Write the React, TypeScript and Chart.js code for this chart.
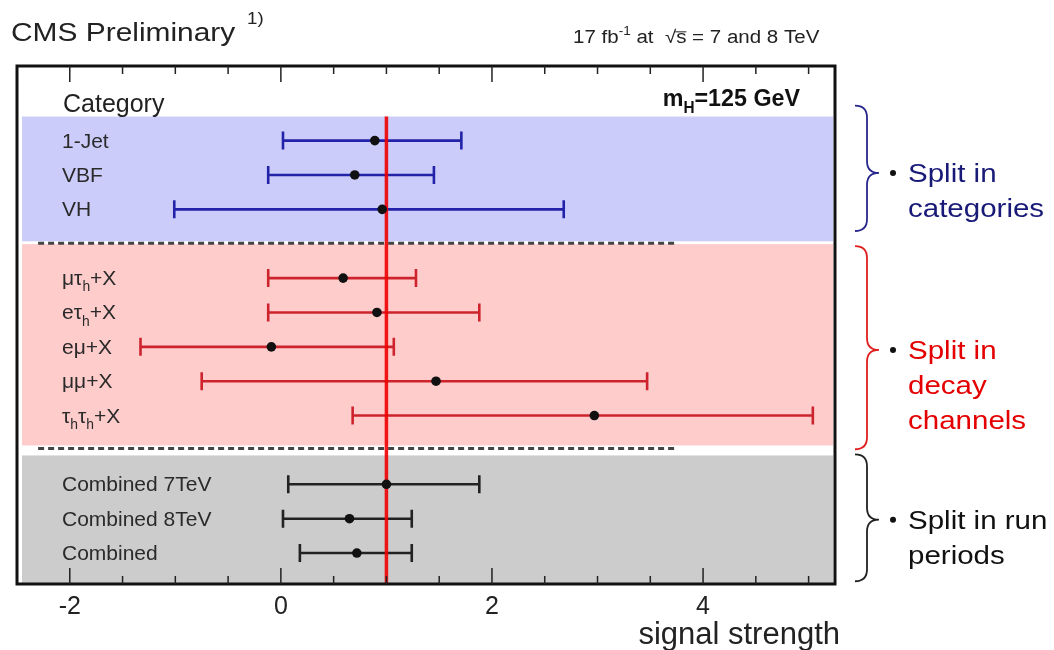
import React, { useEffect, useRef } from "react";
import { Chart, registerables } from "chart.js";
Chart.register(...registerables);

// ---------- data ----------
const categories = [
  "1-Jet",
  "VBF",
  "VH",
  "μτ_{h}+X",
  "eτ_{h}+X",
  "eμ+X",
  "μμ+X",
  "τ_{h}τ_{h}+X",
  "Combined 7TeV",
  "Combined 8TeV",
  "Combined",
];
const rowIndex = [0, 1, 2, 4, 5, 6, 7, 8, 10, 11, 12];
const bestFit = [0.89, 0.7, 0.96, 0.59, 0.91, -0.09, 1.47, 2.97, 1.0, 0.65, 0.72];
const lowEdge = [0.02, -0.12, -1.01, -0.12, -0.12, -1.33, -0.75, 0.68, 0.07, 0.02, 0.18];
const highEdge = [1.71, 1.45, 2.68, 1.28, 1.88, 1.07, 3.47, 5.04, 1.88, 1.24, 1.24];
const groupOf = ["cat", "cat", "cat", "dec", "dec", "dec", "dec", "dec", "run", "run", "run"];
const xTickValues = [-2, 0, 2, 4];
const smValue = 1;

// ---------- styling / layout ----------
const FONT = '"Liberation Sans", Arial, Helvetica, sans-serif';
const X_MIN = -2.5;
const X_MAX = 5.25;
const Y_MIN = -2.17;
const Y_MAX = 12.9;
const barColor: Record<string, string> = {
  cat: "rgb(35,35,170)",
  dec: "rgb(205,35,45)",
  run: "#222222",
};
const bands = [
  { from: -0.7, to: 2.93, color: "rgb(204,204,250)" },
  { from: 3.01, to: 8.87, color: "rgb(255,204,204)" },
  { from: 9.16, to: Y_MAX, color: "rgb(204,204,204)" },
];
const dashedRows = [2.985, 8.96];
const dashFrom = -2.3;
const dashTo = 3.75;
const annotations = [
  { top: -1.02, bottom: 2.63, tip: 0.94, brace: "rgb(40,40,140)", text: "rgb(25,25,120)", lines: ["Split in", "categories"] },
  { top: 3.07, bottom: 8.98, tip: 6.09, brace: "rgb(225,30,30)", text: "rgb(228,0,0)", lines: ["Split in", "decay", "channels"] },
  { top: 9.13, bottom: 12.82, tip: 11.03, brace: "#222222", text: "#111111", lines: ["Split in run", "periods"] },
];

type Seg = { t: string; mode?: "n" | "sub" | "sup"; over?: boolean };

function parseLabel(s: string): Seg[] {
  const segs: Seg[] = [];
  const re = /_\{([^}]*)\}/g;
  let last = 0;
  let m: RegExpExecArray | null;
  while ((m = re.exec(s))) {
    if (m.index > last) segs.push({ t: s.slice(last, m.index) });
    segs.push({ t: m[1], mode: "sub" });
    last = m.index + m[0].length;
  }
  if (last < s.length) segs.push({ t: s.slice(last) });
  return segs;
}

function drawRich(
  ctx: CanvasRenderingContext2D,
  segs: Seg[],
  x: number,
  y: number,
  size: number,
  o: { sx?: number; bold?: boolean; color?: string; align?: "left" | "right" | "center" } = {}
) {
  const sx = o.sx ?? 1;
  const weight = o.bold ? "bold " : "";
  const sizes = segs.map((s) => (s.mode === "sub" || s.mode === "sup" ? size * 0.66 : size));
  const widths = segs.map((s, i) => {
    ctx.font = `${weight}${sizes[i]}px ${FONT}`;
    return ctx.measureText(s.t).width * sx;
  });
  const total = widths.reduce((a, b) => a + b, 0);
  let cx = o.align === "right" ? x - total : o.align === "center" ? x - total / 2 : x;
  ctx.save();
  ctx.fillStyle = o.color ?? "#222";
  ctx.strokeStyle = o.color ?? "#222";
  ctx.textBaseline = "alphabetic";
  segs.forEach((s, i) => {
    ctx.font = `${weight}${sizes[i]}px ${FONT}`;
    const dy = s.mode === "sub" ? size * 0.3 : s.mode === "sup" ? -size * 0.42 : 0;
    ctx.save();
    ctx.translate(cx, y + dy);
    ctx.scale(sx, 1);
    ctx.fillText(s.t, 0, 0);
    ctx.restore();
    if (s.over) {
      ctx.lineWidth = 1;
      ctx.beginPath();
      ctx.moveTo(cx - 1, y - size * 0.62);
      ctx.lineTo(cx + widths[i], y - size * 0.62);
      ctx.stroke();
    }
    cx += widths[i];
  });
  ctx.restore();
  return total;
}

function drawBrace(ctx: CanvasRenderingContext2D, x: number, top: number, bottom: number, tip: number, color: string) {
  const r = 12;
  ctx.save();
  ctx.strokeStyle = color;
  ctx.lineWidth = 1.8;
  ctx.beginPath();
  ctx.moveTo(x - r, top);
  ctx.quadraticCurveTo(x, top, x, top + r);
  ctx.lineTo(x, tip - r);
  ctx.quadraticCurveTo(x, tip, x + r, tip);
  ctx.quadraticCurveTo(x, tip, x, tip + r);
  ctx.lineTo(x, bottom - r);
  ctx.quadraticCurveTo(x, bottom, x - r, bottom);
  ctx.stroke();
  ctx.restore();
}

const decorPlugin = {
  id: "decor",
  beforeDatasetsDraw(chart: any) {
    const { ctx, chartArea: a, scales } = chart;
    const xs = scales.x;
    const ys = scales.y;
    ctx.save();
    // bands
    bands.forEach((b) => {
      const y0 = ys.getPixelForValue(b.from);
      const y1 = ys.getPixelForValue(b.to);
      ctx.fillStyle = b.color;
      ctx.fillRect(a.left + 5, y0, a.right - 2 - (a.left + 5), y1 - y0);
    });
    // dashed separators
    ctx.strokeStyle = "#444";
    ctx.lineWidth = 3;
    ctx.setLineDash([6, 4]);
    dashedRows.forEach((v) => {
      const y = ys.getPixelForValue(v);
      ctx.beginPath();
      ctx.moveTo(xs.getPixelForValue(dashFrom), y);
      ctx.lineTo(xs.getPixelForValue(dashTo), y);
      ctx.stroke();
    });
    ctx.setLineDash([]);
    // error bars
    categories.forEach((_, i) => {
      const y = ys.getPixelForValue(rowIndex[i]);
      const xl = xs.getPixelForValue(lowEdge[i]);
      const xh = xs.getPixelForValue(highEdge[i]);
      ctx.strokeStyle = barColor[groupOf[i]];
      ctx.lineWidth = 2.6;
      ctx.beginPath();
      ctx.moveTo(xl, y);
      ctx.lineTo(xh, y);
      ctx.moveTo(xl, y - 9);
      ctx.lineTo(xl, y + 9);
      ctx.moveTo(xh, y - 9);
      ctx.lineTo(xh, y + 9);
      ctx.stroke();
    });
    // SM line
    const xr = xs.getPixelForValue(smValue);
    ctx.strokeStyle = "rgba(240,0,0,0.9)";
    ctx.lineWidth = 3.5;
    ctx.beginPath();
    ctx.moveTo(xr, ys.getPixelForValue(bands[0].from));
    ctx.lineTo(xr, a.bottom);
    ctx.stroke();
    ctx.restore();
  },
  afterDatasetsDraw(chart: any) {
    const { ctx, chartArea: a, scales } = chart;
    const xs = scales.x;
    const ys = scales.y;
    ctx.save();
    // frame
    ctx.strokeStyle = "#111";
    ctx.lineWidth = 3;
    ctx.strokeRect(a.left, a.top, a.right - a.left, a.bottom - a.top);
    // ticks
    ctx.lineWidth = 1.5;
    ctx.strokeStyle = "#222";
    for (let v = X_MIN; v <= X_MAX + 1e-9; v += 0.5) {
      const major = xTickValues.includes(v);
      const len = major ? 16 : 8;
      const x = xs.getPixelForValue(v);
      if (x <= a.left + 2 || x >= a.right - 2) continue;
      ctx.beginPath();
      ctx.moveTo(x, a.bottom);
      ctx.lineTo(x, a.bottom - len);
      ctx.moveTo(x, a.top);
      ctx.lineTo(x, a.top + len);
      ctx.stroke();
    }
    ctx.restore();
    // labels
    categories.forEach((c, i) => {
      const y = ys.getPixelForValue(rowIndex[i]) + 7;
      drawRich(ctx, parseLabel(c), a.left + 45, y, 21, { color: "#2a2a2a" });
    });
    drawRich(ctx, [{ t: "Category" }], a.left + 46, ys.getPixelForValue(-1) + 6, 25, { color: "#222" });
    drawRich(
      ctx,
      [{ t: "m" }, { t: "H", mode: "sub" }, { t: "=125 GeV" }],
      a.right - 35,
      ys.getPixelForValue(-1.18) + 6,
      24,
      { bold: true, color: "#111", sx: 0.97, align: "right" }
    );
  },
  afterDraw(chart: any) {
    const { ctx, chartArea: a, scales } = chart;
    const ys = scales.y;
    // title
    drawRich(ctx, [{ t: "CMS Preliminary" }], 11, 41, 26, { sx: 1.15, color: "#222" });
    drawRich(ctx, [{ t: "1)" }], 247, 24, 17, { sx: 1.1, color: "#222" });
    drawRich(
      ctx,
      [
        { t: "17 fb" },
        { t: "-1", mode: "sup" },
        { t: " at  " },
        { t: "√" },
        { t: "s", over: true },
        { t: " = 7 and 8 TeV" },
      ],
      573,
      43,
      18,
      { sx: 1.14, color: "#222" }
    );
    // x title
    drawRich(ctx, [{ t: "signal strength" }], a.right + 5, 644, 31, { sx: 1.0, color: "#222", align: "right" });
    // annotations
    annotations.forEach((an) => {
      const top = ys.getPixelForValue(an.top);
      const bottom = ys.getPixelForValue(an.bottom);
      const tip = ys.getPixelForValue(an.tip);
      drawBrace(ctx, a.right + 32, top, bottom, tip, an.brace);
      ctx.save();
      ctx.fillStyle = "#111";
      ctx.beginPath();
      ctx.arc(a.right + 58, tip, 3, 0, Math.PI * 2);
      ctx.fill();
      ctx.restore();
      an.lines.forEach((ln, k) => {
        drawRich(ctx, [{ t: ln }], a.right + 73, tip + 9 + k * 35, 25, { sx: 1.18, color: an.text });
      });
    });
  },
};

export default function App() {
  const ref = useRef<HTMLCanvasElement | null>(null);
  useEffect(() => {
    document.body.style.margin = "0";
    const canvas = ref.current;
    if (!canvas) return;
    const points = bestFit.map((v, i) => ({ x: v, y: rowIndex[i] }));
    const chart = new Chart(canvas, {
      type: "scatter",
      data: {
        datasets: [
          {
            data: points,
            pointRadius: 4.8,
            pointBackgroundColor: "#111",
            pointBorderWidth: 0,
            showLine: false,
          },
        ],
      },
      options: {
        animation: false,
        responsive: false,
        maintainAspectRatio: false,
        layout: { padding: { left: 17, right: 219, top: 66, bottom: 20 } },
        plugins: { legend: { display: false }, tooltip: { enabled: false } },
        scales: {
          x: {
            type: "linear",
            min: X_MIN,
            max: X_MAX,
            grid: { display: false, drawTicks: false },
            border: { display: false },
            afterBuildTicks: (scale: any) => {
              scale.ticks = xTickValues.map((v) => ({ value: v }));
            },
            ticks: {
              padding: 8,
              color: "#222",
              font: { size: 25, family: FONT },
              maxRotation: 0,
              autoSkip: false,
              callback: (v: any) => String(v),
            },
          },
          y: {
            type: "linear",
            min: Y_MIN,
            max: Y_MAX,
            reverse: true,
            display: false,
          },
        },
      },
      plugins: [decorPlugin],
    });
    return () => chart.destroy();
  }, []);
  return (
    <div style={{ width: 1054, height: 650, background: "#fff" }}>
      <canvas ref={ref} width={1054} height={650} style={{ display: "block" }} />
    </div>
  );
}
